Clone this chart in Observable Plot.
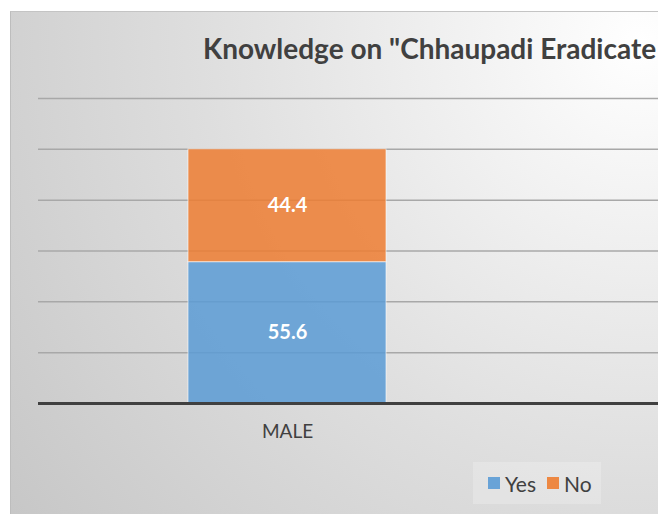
<!DOCTYPE html>
<html>
<head>
<meta charset="utf-8">
<script src="https://cdn.jsdelivr.net/npm/d3@7"></script>
<script src="https://cdn.jsdelivr.net/npm/@observablehq/plot@0.6"></script>
<style>
  html, body { margin: 0; padding: 0; background: #ffffff; }
  #wrap { position: relative; width: 658px; height: 514px; overflow: hidden; font-family: Lato, "Open Sans", sans-serif; }
  #bg { position: absolute; left: 10px; top: 11px; width: 720px; height: 520px;
        border-top: 1px solid #c4c4c4; border-left: 1px solid #bdbdbd;
        background: radial-gradient(circle 800px at 630px 30px, #ffffff 0%, #f4f4f4 18%, #dedede 55%, #c6c6c6 100%); }
  #title { position: absolute; left: 203px; top: 32px; white-space: nowrap; font-size: 28px; line-height: 32px; font-weight: 700; color: #404040; }
  #chart { position: absolute; left: 0; top: 0; width: 1000px; }
  #chart svg { max-width: none !important; }
  #legend { position: absolute; left: 473px; top: 462px; width: 128px; height: 42px; background: rgba(255,255,255,0.22);
            display: flex; align-items: center; justify-content: flex-start; padding-left: 15px; box-sizing: border-box;
            gap: 11px; font-size: 21px; color: #404040; }
  .sw { display: inline-block; width: 12px; height: 12px; margin-right: 5px; }
  .item { display: inline-flex; align-items: center; }
</style>
</head>
<body>
<div id="wrap">
  <div id="bg"></div>
  <div id="chart"></div>
  <div id="title"></div>
  <div id="legend"></div>
</div>
<script>
const titleText = 'Knowledge on "Chhaupadi Eradicate';
const categories = ["MALE"];
const answers = ["Yes", "No"];
const yesValues = [55.6];
const noValues = [44.4];
const gridTicks = [20, 40, 60, 80, 100, 120];
const colors = ["#5b9bd5", "#ed7d31"];

const data = [];
categories.forEach((c, i) => {
  data.push({gender: c, answer: answers[0], value: yesValues[i]});
  data.push({gender: c, answer: answers[1], value: noValues[i]});
});

document.getElementById("title").textContent = titleText;

const chart = Plot.plot({
  width: 1000,
  height: 514,
  marginLeft: 38,
  marginRight: 0,
  marginTop: 98,
  marginBottom: 111,
  style: {background: "transparent", fontFamily: "Lato, 'Open Sans', sans-serif", overflow: "visible", maxWidth: "none"},
  x: {domain: categories, range: [38, 536], padding: 0.431, axis: null},
  y: {domain: [0, 120], range: [403, 98], axis: null},
  color: {domain: answers, range: colors},
  marks: [
    Plot.ruleY(gridTicks, {stroke: "#a8a8a8", strokeWidth: 1.5}),
    Plot.barY(data, {x: "gender", y: "value", fill: "answer", fillOpacity: 0.85, stroke: "#ffffff", strokeOpacity: 0.6, strokeWidth: 1}),
    Plot.text(data, Plot.stackY({x: "gender", y: "value", text: d => d.value.toFixed(1), fill: "#ffffff", fontSize: 20, fontWeight: "bold"})),
    Plot.ruleY([0], {stroke: "#404040", strokeWidth: 3}),
    Plot.axisX({tickSize: 0, tickPadding: 21, fontSize: 19, fill: "#404040", label: null})
  ]
});
chart.style.maxWidth = "none";
document.getElementById("chart").appendChild(chart);

const legend = document.getElementById("legend");
answers.forEach((a, i) => {
  const item = document.createElement("span");
  item.className = "item";
  const sw = document.createElement("span");
  sw.className = "sw";
  sw.style.background = colors[i];
  sw.style.opacity = 0.9;
  item.appendChild(sw);
  item.appendChild(document.createTextNode(a));
  legend.appendChild(item);
});
</script>
</body>
</html>
